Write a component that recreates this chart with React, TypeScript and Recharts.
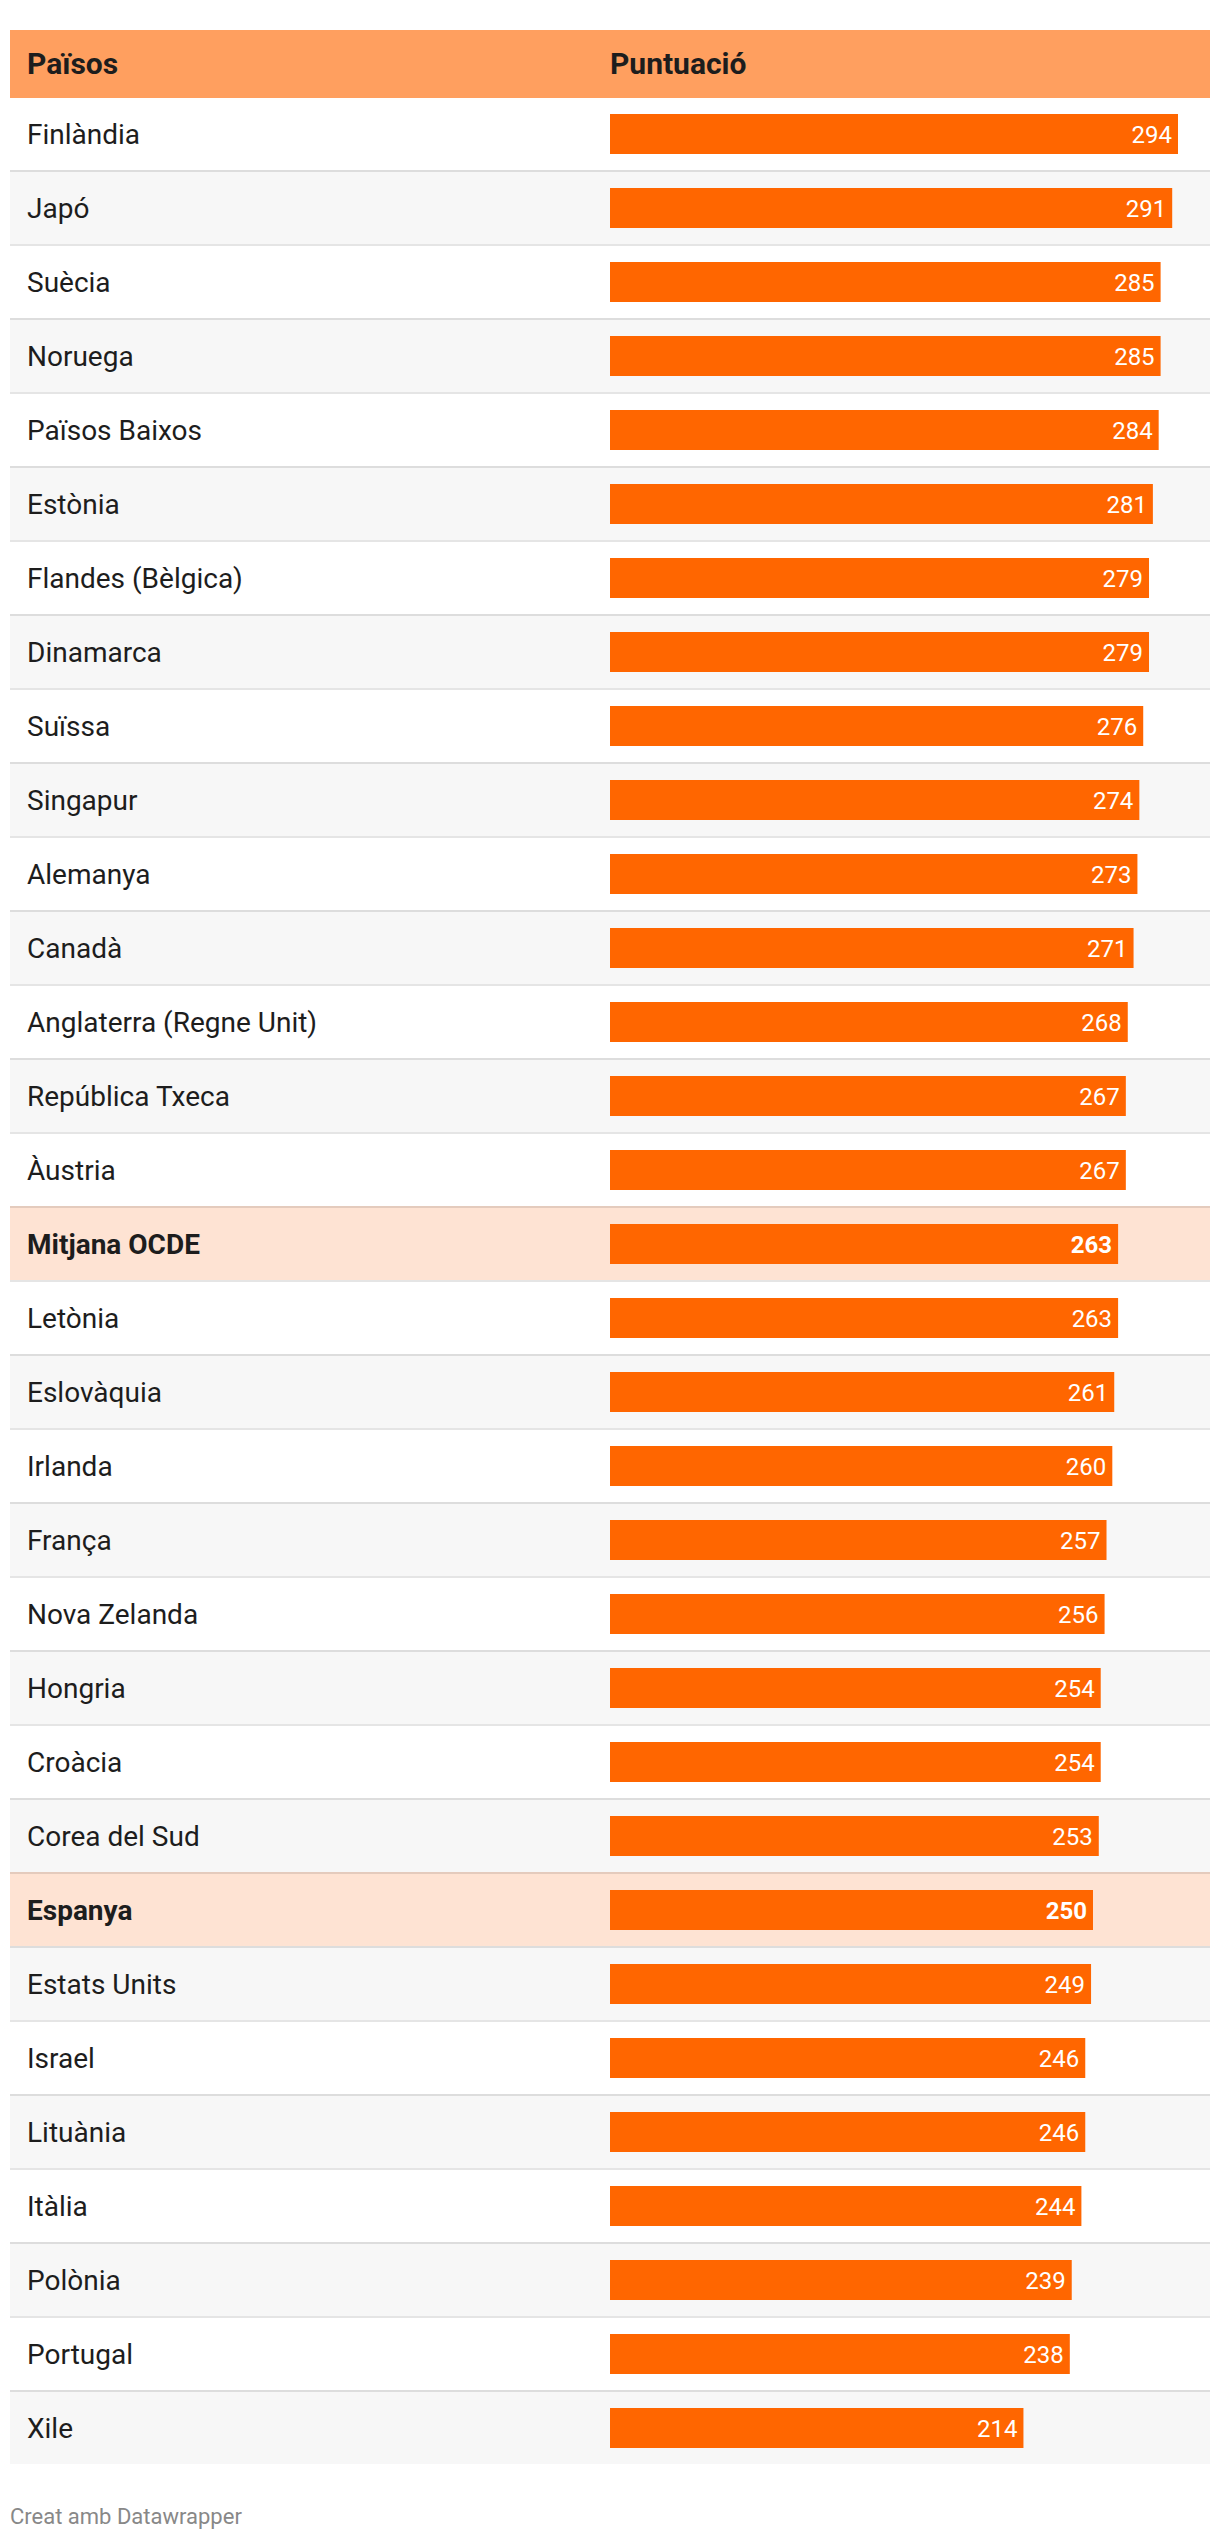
import { BarChart, Bar, XAxis, YAxis, LabelList } from 'recharts';

// Puntuació per país (de major a menor)
const countries = [
  'Finlàndia', 'Japó', 'Suècia', 'Noruega', 'Països Baixos', 'Estònia',
  'Flandes (Bèlgica)', 'Dinamarca', 'Suïssa', 'Singapur', 'Alemanya', 'Canadà',
  'Anglaterra (Regne Unit)', 'República Txeca', 'Àustria', 'Mitjana OCDE',
  'Letònia', 'Eslovàquia', 'Irlanda', 'França', 'Nova Zelanda', 'Hongria',
  'Croàcia', 'Corea del Sud', 'Espanya', 'Estats Units', 'Israel', 'Lituània',
  'Itàlia', 'Polònia', 'Portugal', 'Xile',
];
const scores = [
  294, 291, 285, 285, 284, 281, 279, 279, 276, 274, 273, 271, 268, 267, 267, 263,
  263, 261, 260, 257, 256, 254, 254, 253, 250, 249, 246, 246, 244, 239, 238, 214,
];
const highlighted = ['Mitjana OCDE', 'Espanya'];
const headers = ['Països', 'Puntuació'];
const credit = 'Creat amb Datawrapper';

const data = countries.map((name, i) => ({
  name,
  value: scores[i],
  hl: highlighted.includes(name),
}));

const FONT = 'Roboto, "Noto Sans", sans-serif';
const CHART_W = 1200;
const TEXT = '#1d1d1d';

function rowFill(i: number) {
  if (data[i]?.hl) return '#fee3d3';
  return i % 2 === 1 ? '#f7f7f7' : '#ffffff';
}

// full-width row stripe, drawn as the bar background
function RowBackground(props: any) {
  const { y, height, index } = props;
  const cy = y + height / 2;
  const top = index === 0 ? cy - 36 : cy - 38;
  return (
    <g>
      <rect x={0} y={top} width={CHART_W} height={cy + 36 - top} fill={rowFill(index)} />
      {index > 0 && (
        <rect x={0} y={cy - 38} width={CHART_W} height={2} fill="rgba(0,0,0,0.1)" />
      )}
    </g>
  );
}

function CountryTick(props: any) {
  const { y, payload } = props;
  const d = data.find((r) => r.name === payload.value);
  return (
    <text
      x={17}
      y={y + 10}
      fontFamily={FONT}
      fontSize={28}
      fontWeight={d?.hl ? 700 : 400}
      fill={TEXT}
    >
      {payload.value}
    </text>
  );
}

function ValueLabel(props: any) {
  const { x, y, width, height, value, index } = props;
  const hl = data[index]?.hl;
  return (
    <text
      x={Number(x) + Number(width) - 6}
      y={Number(y) + Number(height) / 2 + 8.5}
      textAnchor="end"
      fontFamily={FONT}
      fontSize={24}
      fontWeight={hl ? 700 : 400}
      fill="#ffffff"
    >
      {value}
    </text>
  );
}

export default function App() {
  return (
    <div
      style={{
        position: 'absolute',
        left: 0,
        top: 0,
        width: 1220,
        height: 2540,
        background: '#ffffff',
        fontFamily: FONT,
      }}
    >
      <div style={{ position: 'absolute', left: 10, top: 97 }}>
        <BarChart
          width={CHART_W}
          height={2368}
          data={data}
          layout="vertical"
          margin={{ top: 0, right: 32, bottom: 0, left: 0 }}
          barSize={40}
        >
          <XAxis type="number" domain={[0, 294]} hide />
          <Bar
            dataKey="value"
            fill="#ff6600"
            isAnimationActive={false}
            background={(p: any) => <RowBackground {...p} />}
          >
            <LabelList dataKey="value" content={<ValueLabel />} />
          </Bar>
          <YAxis
            type="category"
            dataKey="name"
            width={600}
            axisLine={false}
            tickLine={false}
            interval={0}
            tick={<CountryTick />}
          />
        </BarChart>
      </div>

      {/* table header */}
      <div
        style={{
          position: 'absolute',
          left: 10,
          top: 30,
          width: 1200,
          height: 68,
          background: '#ff9f5f',
          color: TEXT,
          fontWeight: 700,
          fontSize: 30,
          lineHeight: '30px',
        }}
      >
        <span style={{ position: 'absolute', left: 17, top: 19 }}>{headers[0]}</span>
        <span style={{ position: 'absolute', left: 600, top: 19 }}>{headers[1]}</span>
      </div>

      <div
        style={{
          position: 'absolute',
          left: 10,
          top: 2506,
          fontSize: 22,
          lineHeight: '22px',
          color: '#888888',
        }}
      >
        {credit}
      </div>
    </div>
  );
}
